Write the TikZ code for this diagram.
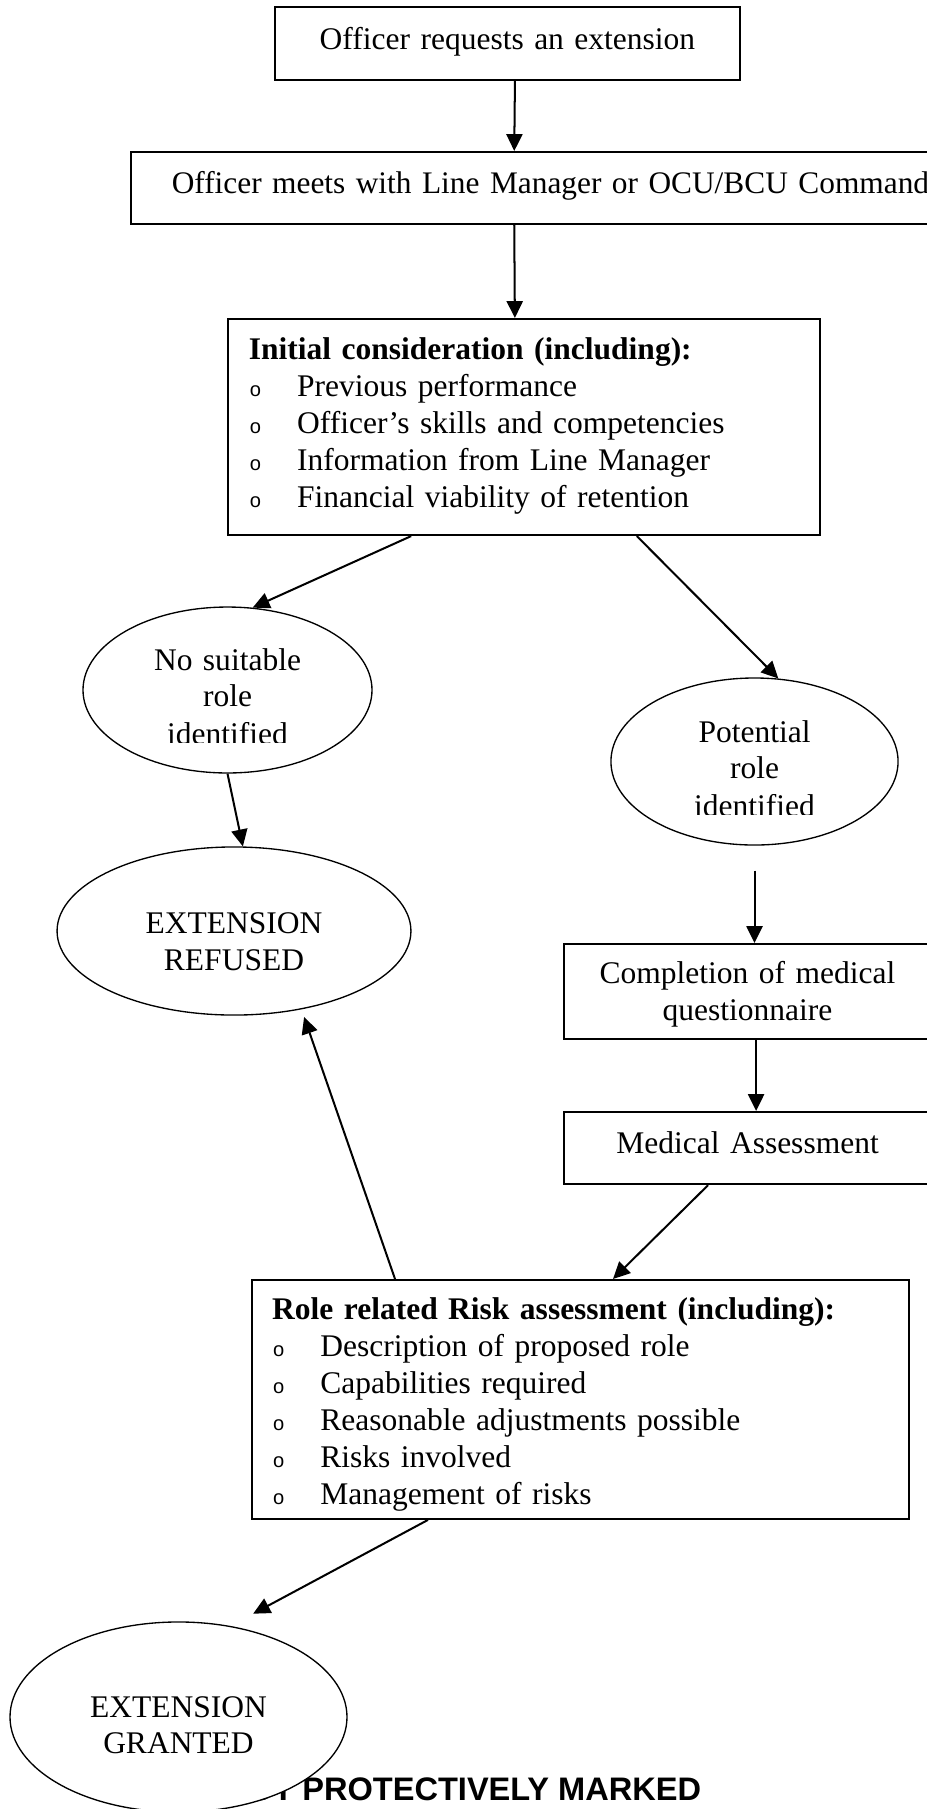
\documentclass[tikz,border=0pt]{standalone}
\usepackage{fontspec}
\usepackage{trimclip}
\setmainfont{Liberation Serif}
\setsansfont{Liberation Sans}
\usetikzlibrary{arrows.meta,shapes.geometric}

% hollow list bullet as in the original form
\newcommand{\bul}{\makebox[18pt][l]{\hspace{0.4pt}{\sffamily\fontsize{7.5}{7.5}\selectfont o}}}
% last line of a bubble, cut at the foot as in the original
\newcommand{\cutline}[1]{\clipbox{0pt 0.8pt 0pt 0pt}{#1}}

\begin{document}
\begin{tikzpicture}[
    x=0.373pt, y=-0.373pt,
    wordbox/.style={rectangle, draw, line width=0.75pt, anchor=north west,
      inner ysep=0pt, text height=15pt, font=\fontsize{11.75}{13.8}\selectfont},
    bubble/.style={ellipse, draw, line width=0.5pt, inner sep=0pt,
      text width=70pt, align=center, font=\fontsize{11.75}{13.6}\selectfont},
    arr/.style={-{Triangle[length=6.3pt,width=6pt]}, line width=0.75pt}
  ]
  \useasboundingbox (0,0) rectangle (927,1809);
  \clip (0,0) rectangle (927,1809);

  % boxes
  \node[wordbox, text width=163.4pt, inner xsep=5pt, align=center,
    text height=15.7pt, text depth=11.6pt] (req) at (274,6)
    {Officer requests an extension};
  \node[wordbox, text width=297.3pt, inner xsep=15.2pt, align=left,
    text height=15.3pt, text depth=11.6pt, font=\fontsize{11.7}{13.8}\selectfont]
    (meet) at (130,151)
    {Officer meets with Line Manager or OCU/BCU Command};
  \node[wordbox, text width=205.2pt, inner xsep=7.8pt, align=left,
    text depth=65.6pt] (init) at (227,318)
    {\textbf{Initial consideration (including):}\\
     \bul Previous performance\\
     \bul Officer’s skills and competencies\\
     \bul Information from Line Manager\\
     \bul Financial viability of retention};

  % outcomes of the first look
  \node[bubble, minimum width=107.8pt, minimum height=61.9pt,
    text height=0pt, text depth=14.9pt] (nosuit) at (227.5,690)
    {No suitable\\ role\\ \cutline{identified}};
  \node[bubble, minimum width=107.1pt, minimum height=62.3pt,
    text height=0pt, text depth=14.5pt] (pot) at (754.5,761.5)
    {Potential\\ role\\ \cutline{identified}};
  \node[bubble, minimum width=132pt, minimum height=62.7pt,
    text height=2.2pt, text depth=0pt] (ref) at (234,931)
    {EXTENSION\\ REFUSED};

  \node[wordbox, text width=126.9pt, inner xsep=5pt, align=center,
    text height=14.9pt, text depth=20.5pt] (quest) at (563,943)
    {Completion of medical\\ questionnaire};
  \node[wordbox, text width=126.9pt, inner xsep=5pt, align=center,
    text height=15.3pt, text depth=11.6pt] (med) at (563,1111)
    {Medical Assessment};
  \node[wordbox, text width=230.1pt, inner xsep=7.5pt, align=left,
    text height=14.9pt, text depth=74.2pt] (role) at (251,1279)
    {\textbf{Role related Risk assessment (including):}\\
     \bul Description of proposed role\\
     \bul Capabilities required\\
     \bul Reasonable adjustments possible\\
     \bul Risks involved\\
     \bul Management of risks};

  % footer, partly covered by the last ellipse
  \node[font=\sffamily\bfseries\fontsize{12.15}{14}\selectfont, anchor=base west,
    inner sep=0pt] (mark) at (224,1800) {NOT PROTECTIVELY MARKED};
  \node[bubble, fill=white, minimum width=125.7pt, minimum height=70.9pt,
    text height=0pt, text depth=0pt] (grant) at (178.5,1717)
    {EXTENSION\\ GRANTED};

  \coordinate (potgap) at ([yshift=-9.3pt]pot.south);

  % arrows
  \draw[arr] ([xshift=2.8pt]req.south) -- ([xshift=-20.9pt]meet.north);
  \draw[arr] ([xshift=-20.9pt]meet.south) -- ([xshift=-3.4pt]init.north);
  \draw[arr] ([xshift=-42.1pt]init.south) -- (nosuit.73.6);
  \draw[arr] ([xshift=42.1pt]init.south) -- (pot.74.1);
  \draw[arr] (nosuit.south) -- (ref.84.6);
  \draw[arr] (potgap) -- (potgap |- quest.north);
  \draw[arr] ([xshift=3.2pt]quest.south) -- ([xshift=3.2pt]med.north);
  \draw[arr] ([xshift=-14.7pt]med.south) -- ([xshift=12.1pt]role.north);
  \draw[arr] ([xshift=-69.2pt]role.north) -- ([yshift=-3pt]ref.-48.7);
  \draw[arr] ([xshift=-56.9pt]role.south) -- ([yshift=6.5pt]grant.49.9);
\end{tikzpicture}
\end{document}
